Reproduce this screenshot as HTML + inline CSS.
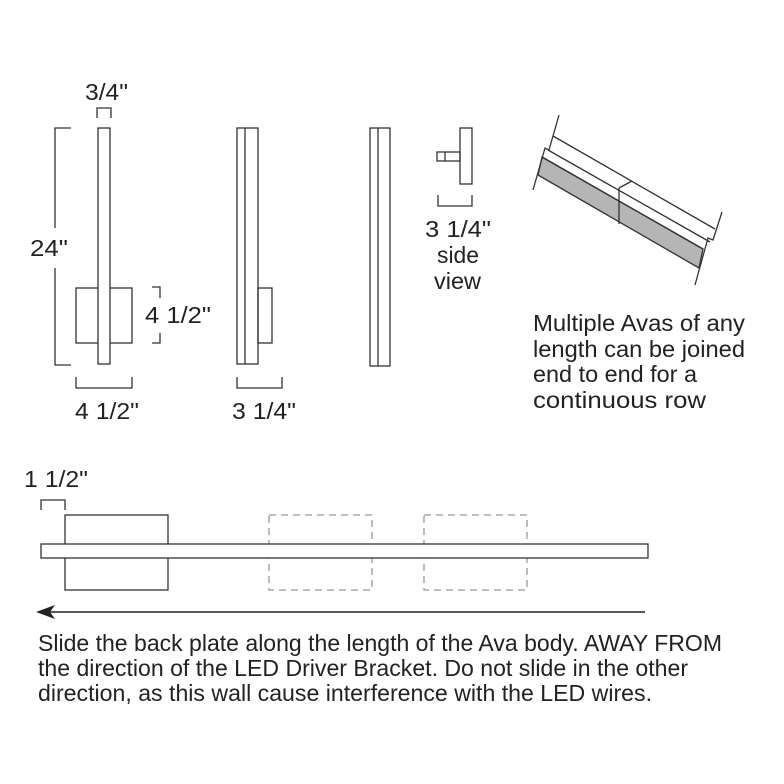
<!DOCTYPE html>
<html><head><style>
body{margin:0;background:#fff;}
svg{display:block;}
text{font-family:"Liberation Sans",sans-serif;fill:#222;}
</style></head><body>
<svg width="784" height="784" viewBox="0 0 784 784" xmlns="http://www.w3.org/2000/svg">
<g fill="none" stroke="#333" stroke-width="1.3">
<rect x="76" y="288" width="56" height="55" fill="#fff"/>
<rect x="98" y="128" width="12" height="236" fill="#fff"/>
<path d="M71 128H55V228M55 268V365H71"/>
<path d="M97 118V108H111V118"/>
<path d="M152 287H160V298M160 333V343H152"/>
<path d="M76 377V388H132V377"/>
<rect x="258" y="288" width="14" height="55"/>
<rect x="237" y="128" width="21" height="236"/>
<line x1="245" y1="128" x2="245" y2="364"/>
<path d="M237 377V388H282V377"/>
<rect x="370" y="128" width="20" height="238"/>
<line x1="378" y1="128" x2="378" y2="366"/>
<rect x="460" y="128" width="12" height="56"/>
<rect x="437" y="152" width="23" height="9"/>
<line x1="445" y1="152" x2="445" y2="161"/>
<path d="M438 195V206H472V195"/>
<polygon points="542,157 703,249 699,268 538,175" fill="#b5b5b5"/>
<line x1="553" y1="136" x2="715" y2="229"/>
<line x1="548" y1="150" x2="710" y2="242"/>
<line x1="542" y1="157" x2="703" y2="249"/>
<line x1="619" y1="188" x2="619" y2="224"/>
<path d="M619 188L632 181"/>
<path d="M559 115L549 150L545 148L533 190"/>
<path d="M722 212L713 240L708 238L695 285"/>
<rect x="65" y="515" width="103" height="75"/>
<path d="M41 510V500H65V510"/>
</g>
<g fill="none" stroke="#999" stroke-width="1.3" stroke-dasharray="7,5">
<rect x="269" y="515" width="103" height="75"/>
<rect x="424" y="515" width="103" height="75"/>
</g>
<rect x="41" y="544" width="607" height="14" fill="#fff" stroke="#333" stroke-width="1.3"/>
<line x1="42" y1="612" x2="645" y2="612" stroke="#222" stroke-width="1.5"/>
<polygon points="36,612 55,605 50,612 55,619" fill="#222"/>
<g font-size="23">
<text x="85" y="100" textLength="43" lengthAdjust="spacingAndGlyphs">3/4"</text>
<text x="30" y="256" textLength="38" lengthAdjust="spacingAndGlyphs">24"</text>
<text x="145" y="323" textLength="66" lengthAdjust="spacingAndGlyphs">4 1/2"</text>
<text x="75" y="419" textLength="64" lengthAdjust="spacingAndGlyphs">4 1/2"</text>
<text x="232" y="419" textLength="64" lengthAdjust="spacingAndGlyphs">3 1/4"</text>
<text x="425" y="237" textLength="66" lengthAdjust="spacingAndGlyphs">3 1/4"</text>
<text x="437" y="263" textLength="42" lengthAdjust="spacingAndGlyphs">side</text>
<text x="434" y="289" textLength="47" lengthAdjust="spacingAndGlyphs">view</text>
<text x="533" y="331" textLength="212" lengthAdjust="spacingAndGlyphs">Multiple Avas of any</text>
<text x="533" y="357" textLength="212" lengthAdjust="spacingAndGlyphs">length can be joined</text>
<text x="533" y="382" textLength="164" lengthAdjust="spacingAndGlyphs">end to end for a</text>
<text x="533" y="408" textLength="173" lengthAdjust="spacingAndGlyphs">continuous row</text>
<text x="24" y="487" textLength="64" lengthAdjust="spacingAndGlyphs">1 1/2"</text>
<text x="38" y="651" textLength="684" lengthAdjust="spacingAndGlyphs">Slide the back plate along the length of the Ava body. AWAY FROM</text>
<text x="38" y="676" textLength="650" lengthAdjust="spacingAndGlyphs">the direction of the LED Driver Bracket. Do not slide in the other</text>
<text x="38" y="701" textLength="614" lengthAdjust="spacingAndGlyphs">direction, as this wall cause interference with the LED wires.</text>
</g>
</svg>
</body></html>
